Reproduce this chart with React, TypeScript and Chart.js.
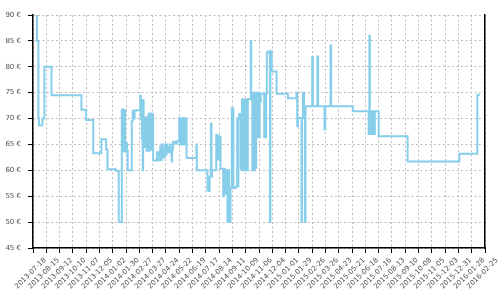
import React, { useEffect, useRef } from "react";
import { Chart, registerables } from "chart.js";

Chart.register(...registerables);

// x tick labels, one every 28 days starting 2013-07-18
const tickLabels = [
  "2013-07-18", "2013-08-15", "2013-09-12", "2013-10-10", "2013-11-07", "2013-12-05",
  "2014-01-02", "2014-01-30", "2014-02-27", "2014-03-27", "2014-04-24", "2014-05-22",
  "2014-06-19", "2014-07-17", "2014-08-14", "2014-09-11", "2014-10-09", "2014-11-06",
  "2014-12-04", "2015-01-01", "2015-01-29", "2015-02-26", "2015-03-26", "2015-04-23",
  "2015-05-21", "2015-06-18", "2015-07-16", "2015-08-13", "2015-09-10", "2015-10-08",
  "2015-11-05", "2015-12-03", "2015-12-31", "2016-01-28", "2016-02-25",
];
const tickStepDays = 28;

// days since 2013-07-18 at which the price changes
const dayOffsets = [
  0, 8.5, 11.3, 12.5, 19.7, 24, 39, 102, 112, 127, 144, 154, 157, 174, 180.6,
  187, 188, 189, 190, 191, 192, 193, 194, 195, 197, 198, 199.5,
  208, 210, 212, 214, 217, 226, 227, 228, 229, 230, 231, 232, 233, 234.6, 236, 237.5, 239.4,
  243, 244.5, 246, 247.5, 249, 250.5, 252, 253, 261, 262.5, 264, 266, 268, 269.5, 271, 272.5,
  274, 276, 277.5, 279, 281, 283, 285, 287, 289, 290.5, 292, 293, 295, 300, 303,
  308, 309.5, 311, 312.5, 314, 315, 316.5, 318, 319.5, 321, 322.5, 323.5, 344, 345,
  367.5, 369, 370.5, 372, 374.6, 376, 377, 386, 388, 389.5, 391, 393, 395, 400.6, 402, 404,
  406, 407.5, 409.5, 411, 413, 416, 418.7, 420, 421, 422, 427, 430, 431, 432.6, 434,
  437.6, 439, 440, 442, 443.5, 445, 446.7, 448, 449.5, 451, 452.5, 458.6, 459.5,
  462, 463.5, 465, 467, 469, 470, 472.6, 474, 476, 477.5, 479.6, 487, 488.5, 490, 491,
  492.5, 495.6, 499, 500, 502.7, 513, 537, 555, 556.5, 558, 565.6, 566.5, 568.5, 571,
  572.7, 574, 588, 589.5, 599, 600.5, 614, 615.5, 626.6, 628, 673.5,
  707, 708.5, 709.5, 711, 712.5, 714, 715.5, 717, 718.5, 720, 728, 789, 898, 936, 939.5,
];

// price in euro from that day on
const prices = [
  95, 85, 70, 68.7, 70, 80, 74.5, 71.7, 69.7, 63.3, 66, 64, 60.2, 59.9, 50,
  71.6, 64, 71.8, 63.7, 71.5, 64.5, 71.6, 64, 63.6, 65.2, 63.8, 60,
  69.5, 71.5, 70, 71.5, 71.6, 74.4, 70, 73.6, 66, 73.6, 60, 73.5, 65.7, 70, 64.5, 70.2, 63.8,
  70.8, 63.8, 71, 64, 71, 64, 70.8, 61.9, 63.5, 61.9, 63.5, 62, 64.5, 62, 65, 62.5,
  64, 62.5, 65, 63, 65, 63.5, 64.5, 63.5, 65, 63.5, 61.7, 64, 65.5, 65.2, 65.6,
  70.1, 65, 70, 65.2, 70, 65, 70.1, 65, 70, 65.3, 70, 62.4, 65, 60,
  56.1, 58.5, 56, 58.8, 69, 58.8, 60, 66.8, 62.1, 66.7, 62.1, 66.5, 60.3, 55, 60.3, 55.5,
  60, 56.6, 50, 60, 50, 56.6, 72, 63.4, 71.9, 56.6, 56.9, 70, 56.9, 69.8, 70.9,
  60.3, 70.9, 73.7, 60, 73.7, 60, 73.7, 60, 73.7, 60, 73.8, 85, 73.7,
  60, 75, 60, 75, 60.5, 75, 66.4, 75, 66.4, 73.3, 74.8, 66.4, 74.8, 66.4, 74.8,
  82.7, 83, 50, 83, 79.1, 74.8, 73.9, 75, 68.5, 70.1, 50, 70.1, 75, 70.1,
  50, 72.4, 81.9, 72.4, 82, 72.4, 67.9, 72.4, 84.1, 72.4, 71.4,
  67, 86, 67, 71.4, 67, 71.4, 67, 71.4, 67, 71.4, 66.6, 61.7, 63.2, 74.6, 74.8,
];

const yMin = 45;
const yMax = 90;
const yStep = 5;

const labelFont = { family: "'DejaVu Sans', sans-serif", size: 7 };
const labelColor = "rgba(0,0,0,0.72)";
const gridColor = "#bdbdbd";
const lineColor = "#87CEEB";

export default function App() {
  const ref = useRef<HTMLCanvasElement>(null);

  useEffect(() => {
    if (!ref.current) return;
    const lastDay = (tickLabels.length - 1) * tickStepDays;
    const chart = new Chart(ref.current, {
      type: "line",
      data: {
        datasets: [
          {
            data: dayOffsets.map((d, i) => ({ x: d, y: prices[i] })),
            stepped: true,
            borderColor: lineColor,
            borderWidth: 2,
            pointRadius: 0,
            fill: false,
          },
        ],
      },
      options: {
        animation: false,
        responsive: false,
        maintainAspectRatio: false,
        layout: { padding: { top: 15, right: 15, bottom: 0, left: 0 } },
        plugins: { legend: { display: false }, tooltip: { enabled: false } },
        scales: {
          x: {
            type: "linear",
            min: 0,
            max: lastDay,
            ticks: {
              stepSize: tickStepDays,
              autoSkip: false,
              minRotation: 45,
              maxRotation: 45,
              labelOffset: 12,
              padding: 3,
              font: labelFont,
              color: labelColor,
              callback: (v: any) => tickLabels[Math.round(Number(v) / tickStepDays)] ?? "",
            },
            grid: { color: gridColor, tickColor: "#000", tickLength: 5, lineWidth: 1 },
            border: { color: "#000", width: 1.5, dash: [2, 2.5] },
            afterFit: (s: any) => {
              s.height = 52;
            },
          },
          y: {
            min: yMin,
            max: yMax,
            ticks: {
              stepSize: yStep,
              padding: 7,
              font: labelFont,
              color: labelColor,
              callback: (v: any) => `${v} €`,
            },
            grid: { color: gridColor, tickColor: "#000", tickLength: 5, lineWidth: 1 },
            border: { color: "#000", width: 1.5, dash: [2, 2.5] },
            afterFit: (s: any) => {
              s.width = 33;
            },
          },
          y2: {
            position: "right",
            display: true,
            ticks: { display: false },
            grid: { display: false, drawTicks: false },
            border: { color: "#000", width: 1.5 },
            afterFit: (s: any) => {
              s.width = 0;
            },
          },
        },
      },
    });
    return () => chart.destroy();
  }, []);

  return (
    <div style={{ position: "fixed", left: 0, top: 0, width: 500, height: 300, background: "#fff" }}>
      <canvas ref={ref} width={500} height={300} />
    </div>
  );
}
